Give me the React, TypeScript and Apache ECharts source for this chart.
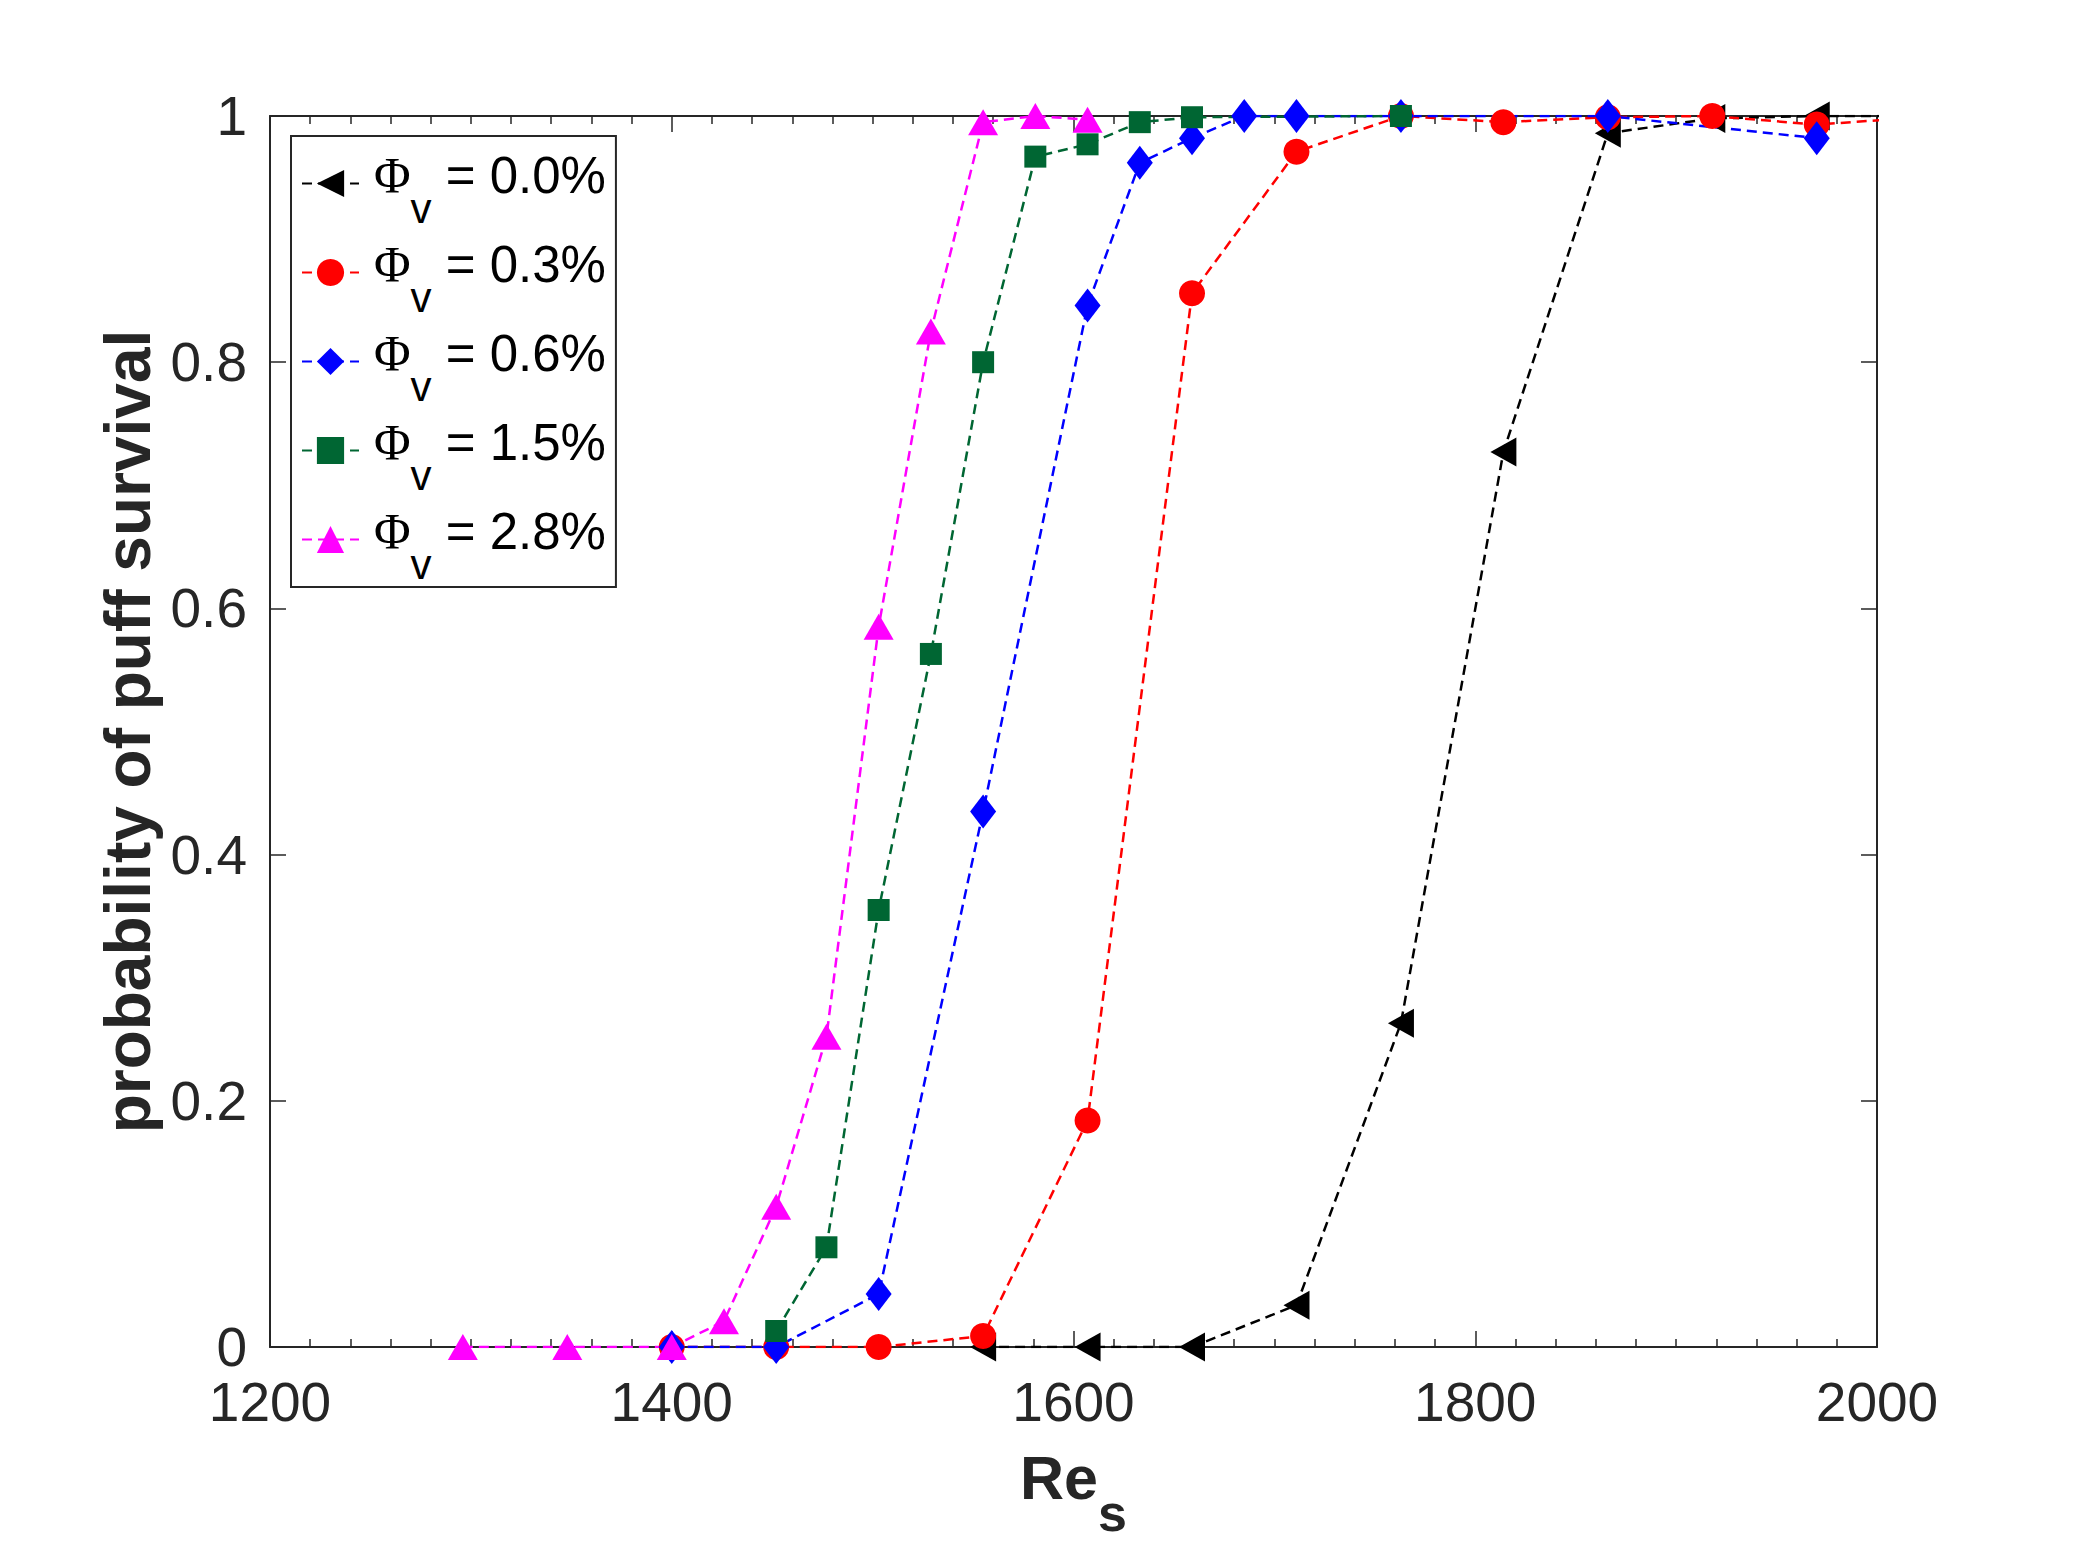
import React, { useEffect, useRef } from "react";
import * as echarts from "echarts";

// Re_s values and survival probabilities per void fraction
const reBlack = [1555, 1607, 1659, 1711, 1763, 1814, 1866, 1918, 1970, 2022];
const pBlack = [0, 0, 0, 0.034, 0.263, 0.727, 0.986, 0.998, 1.0, 1.0];

const reRed = [1400, 1452, 1503, 1555, 1607, 1659, 1711, 1763, 1814, 1866, 1918, 1970, 2022];
const pRed = [0, 0, 0, 0.009, 0.184, 0.856, 0.971, 1.0, 0.995, 0.999, 1.0, 0.993, 0.999];

const reBlue = [1400, 1452, 1503, 1555, 1607, 1633, 1659, 1685, 1711, 1763, 1866, 1970];
const pBlue = [0, 0, 0.043, 0.435, 0.846, 0.962, 0.982, 1.0, 1.0, 1.0, 1.0, 0.982];

const reGreen = [1452, 1477, 1503, 1529, 1555, 1581, 1607, 1633, 1659, 1763];
const pGreen = [0.013, 0.081, 0.355, 0.563, 0.8, 0.967, 0.977, 0.995, 0.999, 1.0];

const reMagenta = [1296, 1348, 1400, 1426, 1452, 1477, 1503, 1529, 1555, 1581, 1607];
const pMagenta = [0, 0, 0, 0.021, 0.114, 0.252, 0.585, 0.825, 0.995, 1.0, 0.997];

const seriesNames = ["0.0%", "0.3%", "0.6%", "1.5%", "2.8%"];
const seriesColors = ["#000000", "#ff0000", "#0000ff", "#006633", "#ff00ff"];

const xMin = 1200;
const xMax = 2000;
const xStep = 200;
const yMin = 0;
const yMax = 1;
const yStep = 0.2;

const SANS = "'Liberation Sans', Arial, Helvetica, sans-serif";
const SERIF = "'Liberation Serif', 'Times New Roman', serif";
const AXIS_COLOR = "#262626";

function pairs(xs: number[], ys: number[]) {
  return xs.map((x, i) => [x, ys[i]]);
}

export default function App() {
  const ref = useRef<HTMLDivElement>(null);

  useEffect(() => {
    if (!ref.current) return;
    const chart = echarts.init(ref.current, null, { renderer: "svg" });

    const lineStyle = (c: string) => ({ color: c, width: 2.5, type: [10, 6] as any });

    const mk = (
      name: string,
      color: string,
      xs: number[],
      ys: number[],
      symbol: string,
      symbolSize: any,
      symbolRotate = 0
    ) => ({
      name,
      type: "line",
      data: pairs(xs, ys),
      symbol,
      symbolSize,
      symbolRotate,
      showAllSymbol: true,
      clip: true,
      lineStyle: lineStyle(color),
      itemStyle: { color, borderWidth: 0 },
      emphasis: { disabled: true },
    });

    const tickCommon = {
      axisLine: { show: true, onZero: false, lineStyle: { color: AXIS_COLOR, width: 2 } },
      splitLine: { show: false },
    };
    const majorTick = { show: true, inside: true, length: 16, lineStyle: { color: AXIS_COLOR, width: 1.5 } };
    const minorTick = { show: true, splitNumber: 10, length: 8, lineStyle: { color: AXIS_COLOR, width: 1.5 } };

    const option: any = {
      animation: false,
      backgroundColor: "#ffffff",
      grid: { left: 270, right: 198, top: 116, bottom: 195, containLabel: false },
      xAxis: [
        {
          type: "value",
          min: xMin,
          max: xMax,
          interval: xStep,
          position: "bottom",
          ...tickCommon,
          axisTick: majorTick,
          minorTick,
          axisLabel: {
            show: true,
            fontSize: 55,
            lineHeight: 48,
            fontFamily: SANS,
            color: AXIS_COLOR,
            margin: 31,
            formatter: (v: number) => String(v),
          },
          name: "{b|Re}{s|s}",
          nameLocation: "middle",
          nameGap: 100,
          nameTextStyle: {
            rich: {
              b: {
                fontSize: 61,
                fontWeight: "bold",
                fontFamily: SANS,
                color: AXIS_COLOR,
                lineHeight: 66,
                verticalAlign: "top",
              },
              s: {
                fontSize: 52,
                fontWeight: "bold",
                fontFamily: SANS,
                color: AXIS_COLOR,
                lineHeight: 52,
                padding: [40, 0, 0, 0],
                verticalAlign: "top",
              },
            },
          },
        },
        {
          type: "value",
          min: xMin,
          max: xMax,
          interval: xStep,
          position: "top",
          ...tickCommon,
          axisTick: majorTick,
          minorTick,
          axisLabel: { show: false },
        },
      ],
      yAxis: [
        {
          type: "value",
          min: yMin,
          max: yMax,
          interval: yStep,
          position: "left",
          ...tickCommon,
          axisTick: majorTick,
          axisLabel: {
            show: true,
            fontSize: 55,
            lineHeight: 48,
            fontFamily: SANS,
            color: AXIS_COLOR,
            margin: 23,
          },
          name: "probability of puff survival",
          nameLocation: "middle",
          nameGap: 102,
          nameRotate: 90,
          nameTextStyle: {
            fontSize: 64,
            lineHeight: 56,
            fontWeight: "bold",
            fontFamily: SANS,
            color: AXIS_COLOR,
          },
        },
        {
          type: "value",
          min: yMin,
          max: yMax,
          interval: yStep,
          position: "right",
          ...tickCommon,
          axisTick: majorTick,
          axisLabel: { show: false },
        },
      ],
      legend: {
        orient: "vertical",
        left: 291,
        top: 136,
        itemWidth: 57,
        itemHeight: 34,
        itemGap: 10,
        padding: [14, 10, 2, 10],
        backgroundColor: "#ffffff",
        borderColor: AXIS_COLOR,
        borderWidth: 2,
        borderRadius: 0,
        selectedMode: false,
        data: seriesNames,
        formatter: (name: string) => `{phi|Φ}{sub|v}{eq| = ${name}}`,
        textStyle: {
          color: "#000000",
          rich: {
            phi: {
              fontFamily: SERIF,
              fontSize: 50,
              lineHeight: 67,
              verticalAlign: "top",
              color: "#000000",
              padding: [0, 0, 0, 10],
            },
            sub: {
              fontFamily: SANS,
              fontSize: 42,
              lineHeight: 42,
              padding: [37, 0, 0, 0],
              verticalAlign: "top",
              color: "#000000",
            },
            eq: {
              fontFamily: SANS,
              fontSize: 51,
              lineHeight: 67,
              verticalAlign: "top",
              color: "#000000",
            },
          },
        },
      },
      series: [
        mk(seriesNames[0], seriesColors[0], reBlack, pBlack, "triangle", [29, 26], 90),
        mk(seriesNames[1], seriesColors[1], reRed, pRed, "circle", 26),
        mk(seriesNames[2], seriesColors[2], reBlue, pBlue, "diamond", [26, 34]),
        mk(seriesNames[3], seriesColors[3], reGreen, pGreen, "rect", 22),
        mk(seriesNames[4], seriesColors[4], reMagenta, pMagenta, "triangle", [30, 26]),
      ],
    };

    chart.setOption(option);
    return () => {
      chart.dispose();
    };
  }, []);

  return (
    <div
      ref={ref}
      style={{ position: "absolute", left: 0, top: 0, width: 2075, height: 1544, background: "#fff" }}
    />
  );
}
